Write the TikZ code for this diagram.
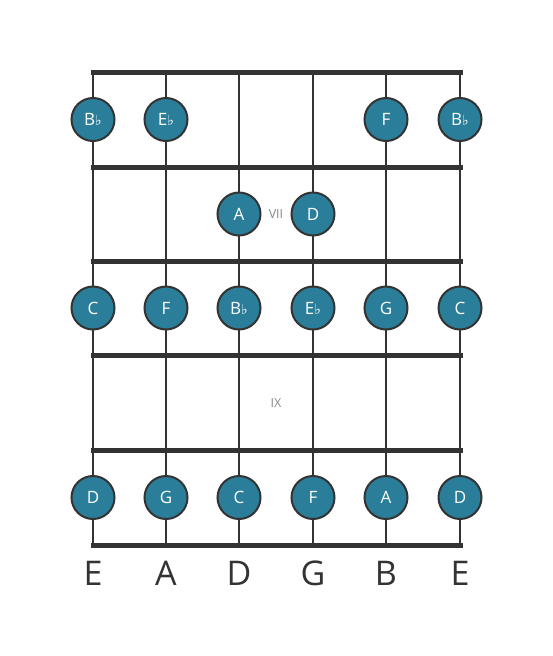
\documentclass[tikz,border=0pt]{standalone}
\usepackage{fontspec}
\setmainfont{Open Sans}
\newfontfamily\flatfont{DejaVu Sans}
\definecolor{notefill}{HTML}{2B7E9A}
\definecolor{gridline}{HTML}{333333}
\definecolor{fretlbl}{HTML}{888888}
\newcommand{\flt}{{\flatfont\fontsize{14}{14}\selectfont ♭}}

\begin{document}
\begin{tikzpicture}[x=1pt,y=-1pt,
  note/.style={circle,draw=gridline,line width=2pt,fill=notefill,text=white,
    minimum size=43pt,inner sep=0pt,font=\fontsize{17}{20}\selectfont},
  fretno/.style={text=fretlbl,font=\fontsize{12.5}{15}\selectfont},
  strname/.style={text=gridline,font=\fontsize{34}{40}\selectfont},
  stringline/.style={gridline,line width=2.5pt},
  fretline/.style={gridline,line width=5pt}]

\useasboundingbox (0,0) rectangle (553,656);

% strings
\foreach \x in {93,166,239,313,386,460}
  \draw[stringline] (\x,72)--(\x,545);
% frets
\foreach \y in {72,167,261,355,450,545}
  \draw[fretline,line cap=rect] (93,\y)--(460,\y);

% fret 7
\node[note] (bb1) at (93,119.5) {B\flt};
\node[note] (eb2) at (166,119.5) {E\flt};
\node[note] (f5) at (386,119.5) {F};
\node[note] (bb6) at (460,119.5) {B\flt};
% fret 8
\node[note] (a3) at (239,214) {A};
\node[note] (d4) at (313,214) {D};
\node[fretno] (vii) at (276,214) {VII};
% fret 9
\node[note] (c1) at (93,308) {C};
\node[note] (f2) at (166,308) {F};
\node[note] (bb3) at (239,308) {B\flt};
\node[note] (eb4) at (313,308) {E\flt};
\node[note] (g5) at (386,308) {G};
\node[note] (c6) at (460,308) {C};
% fret 10
\node[fretno] (ix) at (276,403) {IX};
% fret 11
\node[note] (d1) at (93,497.5) {D};
\node[note] (g2) at (166,497.5) {G};
\node[note] (c3) at (239,497.5) {C};
\node[note] (f4) at (313,497.5) {F};
\node[note] (a5) at (386,497.5) {A};
\node[note] (d6) at (460,497.5) {D};

% open strings
\node[strname] (s1) at (93,573) {E};
\node[strname] (s2) at (166,573) {A};
\node[strname] (s3) at (239,573) {D};
\node[strname] (s4) at (313,573) {G};
\node[strname] (s5) at (386,573) {B};
\node[strname] (s6) at (460,573) {E};
\end{tikzpicture}
\end{document}
